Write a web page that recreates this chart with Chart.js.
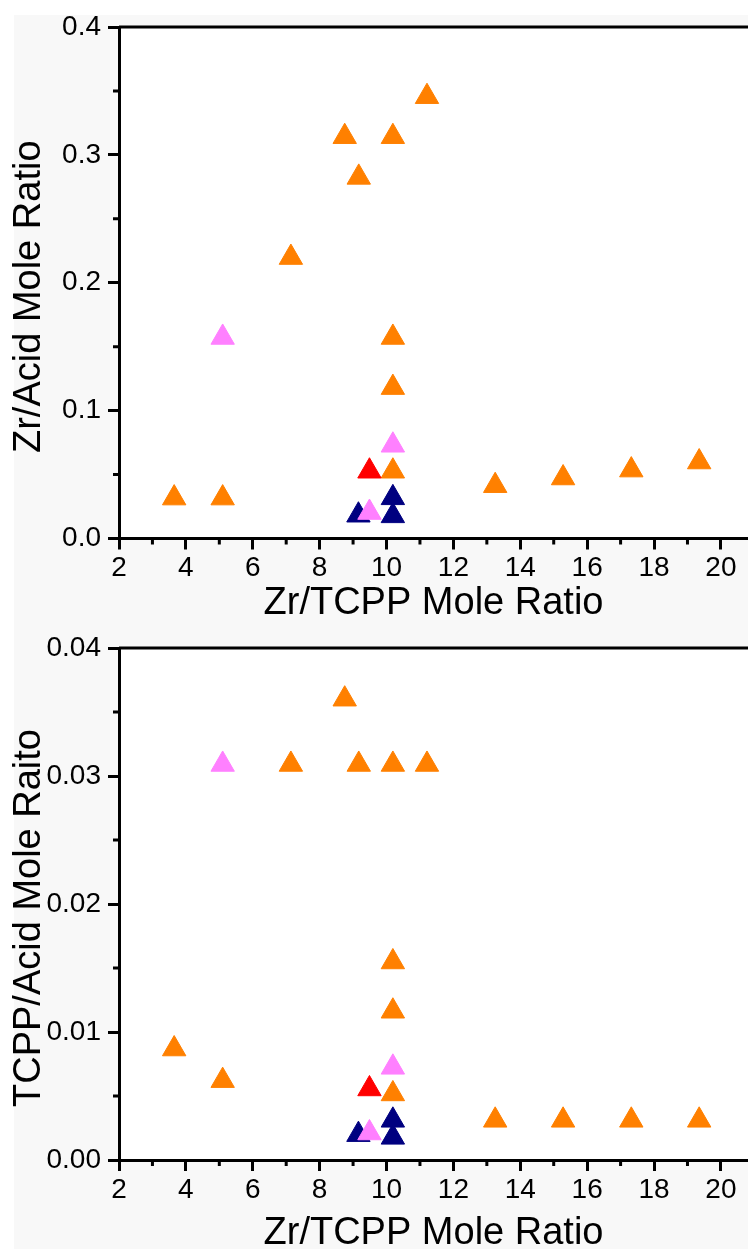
<!DOCTYPE html>
<html>
<head>
<meta charset="utf-8">
<script src="https://cdn.jsdelivr.net/npm/chart.js@4.4.1/dist/chart.umd.min.js"></script>
<style>
  body { margin: 0; background: #fff; }
  #wrap { position: relative; width: 748px; height: 1249px; overflow: hidden; }
  #bg { position: absolute; left: 14px; top: 15px; right: 0; bottom: 0; background: #f8f8f8; }
  canvas { position: absolute; left: 0; }
</style>
</head>
<body>
<div id="wrap">
  <div id="bg"></div>
  <canvas id="topChart" width="748" height="624" style="top:0"></canvas>
  <canvas id="bottomChart" width="748" height="630" style="top:624px"></canvas>
</div>
<script>
// Zr/TCPP mole ratio of each sample (x), by colour group
let orangeX = [3.65, 5.1, 7.14, 8.75, 9.17, 10.19, 11.21, 10.19, 10.19, 10.19, 13.25, 15.28, 17.32, 19.35]
let pinkX = [5.1, 10.19, 9.49]
let redX = [9.49]
let navyX = [9.16, 10.19, 10.19]

// Zr/Acid mole ratio (top panel)
let orangeZrAcid = [0.0316, 0.0316, 0.2197, 0.3142, 0.2824, 0.3142, 0.3455, 0.1572, 0.118, 0.0526, 0.0413, 0.0473, 0.0535, 0.0598]
let pinkZrAcid = [0.1572, 0.0729, 0.0203]
let redZrAcid = [0.0526]
let navyZrAcid = [0.0182, 0.0318, 0.0177]

// TCPP/Acid mole ratio (bottom panel)
let orangeTcppAcid = [0.00867, 0.0062, 0.0309, 0.036, 0.0309, 0.0309, 0.0309, 0.01547, 0.01162, 0.00516, 0.0031, 0.0031, 0.0031, 0.0031]
let pinkTcppAcid = [0.0309, 0.00724, 0.00211]
let redTcppAcid = [0.00555]
let navyTcppAcid = [0.00198, 0.0031, 0.00177]

// tick labels
let xTicks = [2, 4, 6, 8, 10, 12, 14, 16, 18, 20]
let xMinor = [3, 5, 7, 9, 11, 13, 15, 17, 19]
let yTicksTop = [0, 0.1, 0.2, 0.3, 0.4]
let yMinorTop = [0.05, 0.15, 0.25, 0.35]
let yTicksBottom = [0, 0.01, 0.02, 0.03, 0.04]
let yMinorBottom = [0.005, 0.015, 0.025, 0.035]

let fontName = "'Liberation Sans', Arial, sans-serif"

function pontos(xs, ys) {
  return xs.map((x, i) => ({ x: x, y: ys[i] }))
}

function serie(xs, ys, cor) {
  return {
    data: pontos(xs, ys),
    pointStyle: 'triangle',
    pointRadius: 13.5,
    pointBackgroundColor: cor,
    pointBorderColor: cor,
    pointBorderWidth: 1,
    showLine: false
  }
}

// fundo branco da area do grafico, linha de cima, ticks menores e titulo do eixo y
let enfeites = {
  id: 'enfeites',
  beforeDraw(chart) {
    let a = chart.chartArea
    let ctx = chart.ctx
    ctx.save()
    ctx.fillStyle = '#ffffff'
    ctx.fillRect(a.left, a.top, a.right - a.left, a.bottom - a.top)
    ctx.restore()
  },
  afterDraw(chart, args, opts) {
    let a = chart.chartArea
    let ctx = chart.ctx
    ctx.save()
    ctx.strokeStyle = '#000'
    ctx.lineWidth = 3
    ctx.beginPath()
    ctx.moveTo(a.left, a.top)
    ctx.lineTo(a.right, a.top)
    ctx.stroke()
    ctx.beginPath()
    for (let v of opts.xMinor) {
      let px = chart.scales.x.getPixelForValue(v)
      ctx.moveTo(px, a.bottom)
      ctx.lineTo(px, a.bottom + 6)
    }
    for (let v of opts.yMinor) {
      let py = chart.scales.y.getPixelForValue(v)
      ctx.moveTo(a.left, py)
      ctx.lineTo(a.left - 6, py)
    }
    ctx.stroke()

    // titulo do eixo y (um pouco abaixo do centro, como no original)
    ctx.translate(30, (a.top + a.bottom) / 2 + 14)
    ctx.rotate(-Math.PI / 2)
    ctx.fillStyle = '#000'
    ctx.font = '38px ' + fontName
    ctx.textAlign = 'center'
    ctx.textBaseline = 'middle'
    ctx.fillText(opts.yTitulo, 0, 0)
    ctx.restore()
  }
}

function grafico(id, ys, yTicks, yMinor, yMax, casas, yTitulo, padTop, xAxisH) {
  return new Chart(document.getElementById(id), {
    type: 'scatter',
    data: {
      datasets: [
        serie(pinkX, ys[1], '#ff80ff'),
        serie(redX, ys[2], '#ff0000'),
        serie(navyX, ys[3], '#000080'),
        serie(orangeX, ys[0], '#ff8000')
      ]
    },
    options: {
      responsive: false,
      animation: false,
      devicePixelRatio: 1,
      layout: { autoPadding: false, padding: { top: padTop, left: 0, right: 0, bottom: 0 } },
      plugins: {
        legend: { display: false },
        tooltip: { enabled: false },
        enfeites: { xMinor: xMinor, yMinor: yMinor, yTitulo: yTitulo }
      },
      scales: {
        x: {
          min: 2,
          max: 20.81,
          afterBuildTicks: s => { s.ticks = xTicks.map(v => ({ value: v })) },
          afterFit: s => {
            s.height = xAxisH
            s.paddingLeft = 0
            s.paddingRight = 0
          },
          border: { color: '#000', width: 3 },
          grid: { drawOnChartArea: false, tickLength: 11, tickWidth: 3, tickColor: '#000' },
          ticks: { color: '#000', padding: 5, font: { family: fontName, size: 28, lineHeight: 1 } },
          title: {
            display: true,
            text: 'Zr/TCPP Mole Ratio',
            color: '#000',
            padding: { top: 0, bottom: 1 },
            font: { family: fontName, size: 38, lineHeight: 1 }
          }
        },
        y: {
          min: 0,
          max: yMax,
          afterBuildTicks: s => { s.ticks = yTicks.map(v => ({ value: v })) },
          afterFit: s => { s.width = 119 },
          border: { color: '#000', width: 3 },
          grid: { drawOnChartArea: false, tickLength: 11, tickWidth: 3, tickColor: '#000' },
          ticks: {
            color: '#000',
            padding: 7,
            font: { family: fontName, size: 28, lineHeight: 1 },
            callback: v => v.toFixed(casas)
          }
        }
      }
    },
    plugins: [enfeites]
  })
}

grafico('topChart', [orangeZrAcid, pinkZrAcid, redZrAcid, navyZrAcid],
  yTicksTop, yMinorTop, 0.4, 1, 'Zr/Acid Mole Ratio', 27, 85.5)

grafico('bottomChart', [orangeTcppAcid, pinkTcppAcid, redTcppAcid, navyTcppAcid],
  yTicksBottom, yMinorBottom, 0.04, 2, 'TCPP/Acid Mole Raito', 24, 94)
</script>
</body>
</html>
